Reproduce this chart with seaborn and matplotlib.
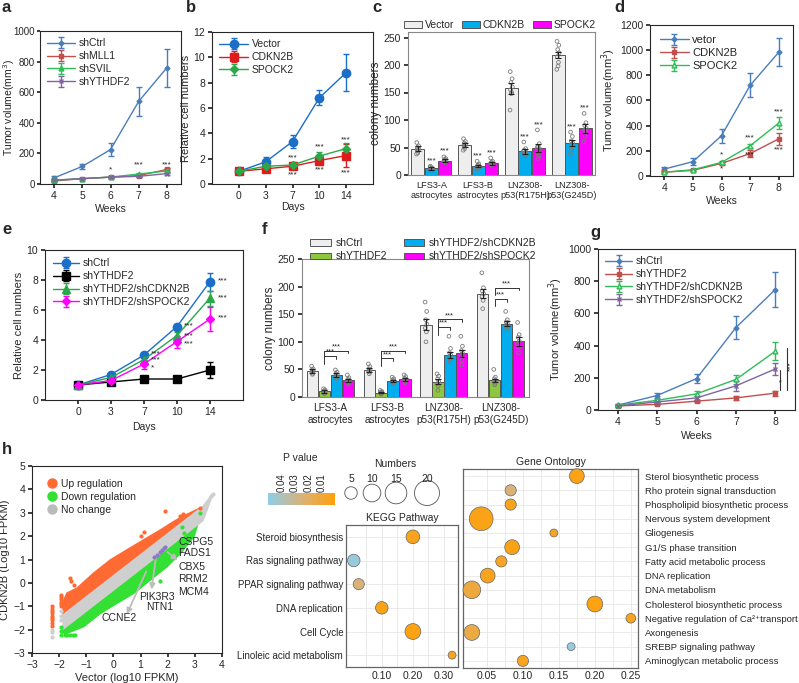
import numpy as np
import pandas as pd
import seaborn as sns
import matplotlib.pyplot as plt
from matplotlib.colors import LinearSegmentedColormap, Normalize
from matplotlib.cm import ScalarMappable
from matplotlib.patches import Patch
from matplotlib.lines import Line2D

sns.set_theme(style='ticks')
plt.rcParams['font.family'] = ['Liberation Sans', 'DejaVu Sans']
plt.rcParams['font.size'] = 7
plt.rcParams['axes.linewidth'] = 0.8
plt.rcParams['xtick.labelsize'] = 7.5
plt.rcParams['ytick.labelsize'] = 7.5
plt.rcParams['xtick.major.size'] = 3
plt.rcParams['ytick.major.size'] = 3
plt.rcParams['xtick.major.pad'] = 2
plt.rcParams['ytick.major.pad'] = 2

# ---------------- data ----------------
weeks = [4, 5, 6, 7, 8]
days = ['0', '3', '7', '10', '14']

a_shctrl = [40, 115, 225, 540, 760]
a_shctrl_err = [15, 18, 45, 95, 125]
a_shmll1 = [20, 35, 45, 55, 95]
a_shmll1_err = [5, 5, 6, 8, 10]
a_shsvil = [25, 35, 45, 65, 85]
a_shsvil_err = [5, 5, 6, 8, 10]
a_shythdf2 = [25, 35, 45, 50, 68]
a_shythdf2_err = [5, 5, 5, 7, 9]

b_vector = [1.0, 1.75, 3.35, 6.8, 8.8]
b_vector_err = [0.1, 0.4, 0.5, 0.6, 1.45]
b_cdkn2b = [1.0, 1.2, 1.4, 1.85, 2.25]
b_cdkn2b_err = [0.1, 0.15, 0.2, 0.3, 0.9]
b_spock2 = [1.0, 1.4, 1.5, 2.2, 2.8]
b_spock2_err = [0.1, 0.15, 0.2, 0.3, 0.4]

c_groups = ['LFS3-A\nastrocytes', 'LFS3-B\nastrocytes', 'LNZ308-\np53(R175H)', 'LNZ308-\np53(G245D)']
c_vector = [48, 55, 158, 218]
c_vector_err = [4, 4, 10, 6]
c_cdkn2b = [12, 17, 43, 58]
c_cdkn2b_err = [2, 2, 5, 6]
c_spock2 = [26, 21, 49, 85]
c_spock2_err = [3, 3, 8, 8]
c_vector_dots = [[59, 53, 50, 48, 46, 44, 40, 38],
                 [66, 61, 58, 56, 54, 52, 48, 45],
                 [188, 175, 168, 160, 155, 150, 148, 118],
                 [243, 236, 228, 222, 215, 205, 198, 192]]
c_cdkn2b_dots = [[16, 13, 12, 11, 10, 9, 12, 14],
                 [25, 20, 18, 16, 14, 13, 17, 11],
                 [60, 48, 45, 42, 40, 38, 35, 44],
                 [78, 70, 62, 58, 55, 50, 45, 38]]
c_spock2_dots = [[33, 30, 28, 26, 25, 22, 27, 24],
                 [31, 25, 22, 20, 19, 18, 23, 21],
                 [82, 57, 52, 48, 40, 35, 30, 50],
                 [112, 95, 90, 85, 82, 80, 70, 60]]

d_vetor = [55, 114, 320, 720, 983]
d_vetor_err = [15, 30, 55, 95, 110]
d_cdkn2b = [30, 45, 100, 178, 295]
d_cdkn2b_err = [8, 8, 15, 25, 45]
d_spock2 = [30, 50, 108, 240, 420]
d_spock2_err = [8, 8, 15, 15, 50]

e_shctrl = [1.0, 1.7, 3.0, 4.9, 7.9]
e_shctrl_err = [0.1, 0.1, 0.15, 0.2, 0.6]
e_shythdf2 = [1.0, 1.2, 1.4, 1.4, 2.0]
e_shythdf2_err = [0.1, 0.1, 0.1, 0.1, 0.55]
e_cdkn2b = [1.0, 1.5, 2.7, 4.3, 6.8]
e_cdkn2b_err = [0.1, 0.1, 0.15, 0.25, 0.5]
e_spock2 = [1.0, 1.3, 2.4, 3.9, 5.4]
e_spock2_err = [0.1, 0.1, 0.3, 0.4, 0.8]

f_shctrl = [47, 49, 131, 187]
f_shctrl_err = [3, 4, 10, 8]
f_shythdf2 = [10, 8, 28, 30]
f_shythdf2_err = [2, 1, 4, 3]
f_cdkn2b = [40, 29, 76, 133]
f_cdkn2b_err = [3, 2, 5, 4]
f_spock2 = [30, 32, 79, 101]
f_spock2_err = [3, 3, 6, 8]
f_shctrl_dots = [[56, 51, 49, 47, 45, 43, 41], [60, 55, 51, 49, 47, 45, 42],
                 [172, 155, 140, 132, 125, 118, 100], [225, 198, 192, 187, 182, 175, 160]]
f_shythdf2_dots = [[15, 13, 11, 10, 8, 7, 6], [12, 10, 9, 8, 7, 6, 5],
                   [42, 38, 33, 28, 24, 20, 12], [50, 36, 33, 30, 28, 25, 22]]
f_cdkn2b_dots = [[49, 45, 42, 40, 38, 36, 33], [36, 33, 31, 29, 28, 26, 24],
                 [110, 88, 80, 76, 72, 68, 64], [155, 140, 136, 133, 130, 127, 122]]
f_spock2_dots = [[40, 35, 32, 30, 28, 26, 23], [40, 37, 34, 32, 30, 28, 26],
                 [110, 92, 84, 79, 74, 66, 58], [135, 113, 108, 101, 96, 90, 80]]
f_bracket_low = [74, 70, 127, 178]
f_bracket_high = [84, 84, 141, 198]

g_shctrl = [30, 90, 195, 512, 748]
g_shctrl_err = [8, 15, 30, 72, 108]
g_shythdf2 = [25, 35, 55, 75, 105]
g_shythdf2_err = [5, 6, 8, 12, 15]
g_cdkn2b = [30, 60, 100, 190, 365]
g_cdkn2b_err = [6, 8, 15, 30, 55]
g_spock2 = [25, 50, 75, 150, 255]
g_spock2_err = [5, 8, 12, 30, 35]

# h: scatter of log10 FPKM (dense clouds given as outlines)
up_band_x = [-1.85, -1.71, -1.34, -0.73, -0.11, 0.5, 1.12, 1.73, 2.22, 2.53, 3.2, 3.2, 2.0, 0.0, -1.0, -1.85]
up_band_y = [-0.8, -0.44, -0.23, 0.41, 0.98, 1.41, 1.84, 2.26, 2.62, 2.83, 3.2, 3.18, 2.1, 0.3, -0.6, -1.37]
nc_band_x = [-1.85, 3.3, 3.65, 3.55, 3.3, -1.85]
nc_band_y = [-1.37, 3.27, 3.8, 3.45, 2.67, -1.97]
down_band_x = [-1.85, 3.1, 2.96, 2.47, 1.98, 1.36, 0.75, 0.13, -0.48, -1.10, -1.71, -1.85]
down_band_y = [-1.97, 2.49, 1.98, 1.27, 0.70, 0.13, -0.44, -0.87, -1.30, -1.87, -2.15, -2.15]
up_pts_x = [1.89, 1.12, 1.0, -1.59, -1.55, 2.47, 2.55, 3.18, -1.45] + [-2.26] * 9 + [-1.92] * 6
up_pts_y = [3.09, 2.19, 2.0, 0.2, 0.06, 2.86, 2.95, 3.22, -0.1] + \
           [-1.0, -1.1, -1.2, -1.3, -1.4, -1.5, -1.6, -1.72, -1.86] + [-0.5, -0.6, -0.7, -0.8, -0.9, -1.0]
down_pts_x = [1.73, 1.12, 2.59, 3.18, 2.53, 2.2] + [-1.92] * 3 + [-1.8, -1.7, -1.6, -1.5, -1.4]
down_pts_y = [0.06, 0.03, 2.15, 2.98, 2.41, 1.4] + [-1.9, -2.05, -2.22] + [-2.22] * 5
nc_pts_x = [-2.26, -2.26, -2.26, -1.92, -1.92, -1.92, 3.6, 3.65]
nc_pts_y = [-2.0, -2.1, -2.3, -1.2, -1.4, -1.6, 3.7, 3.8]
hl_x = [1.5, 1.6, 1.7, 1.78, 1.85, 1.9]
hl_y = [1.1, 1.2, 1.3, 1.42, 1.5, 1.55]

kegg_terms = ['Steroid biosynthesis', 'Ras signaling pathway', 'PPAR signaling pathway',
              'DNA replication', 'Cell Cycle', 'Linoleic acid metabolism']
kegg_ratio = [0.20, 0.01, 0.026, 0.10, 0.20, 0.326]
kegg_count = [6, 5, 4, 5, 8, 2]
kegg_p = [0.004, 0.047, 0.025, 0.003, 0.002, 0.005]

go_terms = ['Sterol biosynthetic process', 'Rho protein signal transduction',
            'Phospholipid biosynthetic process', 'Nervous system development', 'Gliogenesis',
            'G1/S phase transition', 'Fatty acid metabolic process', 'DNA replication',
            'DNA metabolism', 'Cholesterol biosynthetic process',
            'Negative regulation of Ca²⁺transport', 'Axongenesis',
            'SREBP signaling pathway', 'Aminoglycan metabolic process']
go_ratio = [0.175, 0.083, 0.083, 0.042, 0.143, 0.085, 0.07, 0.051, 0.029, 0.2, 0.25, 0.029, 0.167, 0.1]
go_count = [7, 4, 4, 18, 2, 7, 4, 7, 10, 8, 3, 8, 2, 4]
go_p = [0.003, 0.025, 0.004, 0.003, 0.005, 0.003, 0.006, 0.004, 0.012, 0.002, 0.004, 0.013, 0.047, 0.005]

size_legend = [5, 10, 15, 20]
p_ticks = [0.04, 0.03, 0.02, 0.01]

# ---------------- layout helpers ----------------
W, H = 799, 683
fig = plt.figure(figsize=(W / 100, H / 100), dpi=100)


def px_axes(l, t, r, b):
    return fig.add_axes([l / W, 1 - b / H, (r - l) / W, (b - t) / H])


def letter(x, y, s):
    fig.text(x / W, 1 - y / H, s, fontsize=12, fontweight='bold', ha='left', va='center')


BLUE_XL = '#4a7ebb'
RED_XL = '#c0504d'
GREEN_XL = '#2ebd59'
PURPLE_XL = '#8064a2'
BLUE = '#1b6fc8'
RED = '#dd1c1c'
GREEN = '#2aa84a'
MAGENTA = '#ff00ff'
CYAN = '#00aeef'
LIGHT = '#eeeeee'
LGREEN = '#8dc63f'


def line(ax, x, y, err, color, marker, ms, label, mfc=None):
    ax.errorbar(x, y, yerr=err, color=color, marker=marker, ms=ms, lw=1, elinewidth=1,
                capsize=2.5, capthick=1, label=label, mfc=mfc or color, mec=color)


def stars(ax, xs, ys, s='***', **kw):
    for x, y in zip(xs, ys):
        ax.text(x, y, s, ha='center', va='center', fontsize=6, **kw)


def small_legend(ax, hl, fs=7.5, pad=0.3):
    ax.legend(loc='upper left', frameon=False, fontsize=fs, handlelength=hl, labelspacing=0.28,
              borderaxespad=pad, handletextpad=0.3)


# ---------------- a ----------------
ax = px_axes(40, 31, 181, 184)
line(ax, weeks, a_shctrl, a_shctrl_err, BLUE_XL, 'D', 2.5, 'shCtrl')
line(ax, weeks, a_shmll1, a_shmll1_err, RED_XL, 's', 3.5, 'shMLL1')
line(ax, weeks, a_shsvil, a_shsvil_err, GREEN_XL, '^', 3.5, 'shSVIL')
line(ax, weeks, a_shythdf2, a_shythdf2_err, PURPLE_XL, 'x', 3.5, 'shYTHDF2')
ax.set_xlim(3.5, 8.5)
ax.set_ylim(0, 1000)
ax.set_xticks(weeks)
ax.set_yticks([0, 200, 400, 600, 800, 1000])
ax.tick_params(axis='y', labelsize=7, pad=1.5, length=2)
ax.set_xlabel('Weeks', fontsize=7.5, labelpad=2)
ax.set_ylabel('Tumor volume(mm$^3$)', fontsize=7.5)
ax.yaxis.set_label_coords(-0.16, 0.5)
stars(ax, [6], [95], '*')
stars(ax, [7, 8], [125, 125])
small_legend(ax, 2.7)
letter(2, 8, 'a')

# ---------------- b ----------------
ax = px_axes(212, 32, 373, 184)
xb = np.arange(len(days))
line(ax, xb, b_vector, b_vector_err, BLUE, 'o', 6, 'Vector')
line(ax, xb, b_cdkn2b, b_cdkn2b_err, RED, 's', 5.5, 'CDKN2B')
line(ax, xb, b_spock2, b_spock2_err, GREEN, 'D', 4.5, 'SPOCK2')
ax.set_xlim(-1, 5)
ax.set_ylim(0, 12)
ax.set_xticks(xb)
ax.set_xticklabels(days)
ax.set_yticks(range(0, 13, 2))
ax.set_xlabel('Days', fontsize=7.5, labelpad=1)
ax.set_ylabel('Relative cell numbers', fontsize=8, labelpad=2)
stars(ax, [2, 3, 4], [2.1, 2.95, 3.45])
stars(ax, [2, 3, 4], [0.7, 1.1, 0.85])
small_legend(ax, 2.8)
letter(186, 8, 'b')

# ---------------- c ----------------
offs3 = [-0.29, 0.0, 0.29]
jit = [-0.08, 0.06, -0.03, 0.08, -0.06, 0.03, 0.0, -0.1]


def bars(ax, groups, vals, errs, dots, colors, labels, offs, width):
    xg = np.arange(len(groups))
    for v, e, d, c, lab, o in zip(vals, errs, dots, colors, labels, offs):
        ax.bar(xg + o, v, width=width, color=c, edgecolor='#555555', lw=0.7, label=lab, zorder=2)
        ax.errorbar(xg + o, v, yerr=e, fmt='none', ecolor='#222222', elinewidth=0.8, capsize=2,
                    capthick=0.8, zorder=4)
        for gi, pts in enumerate(d):
            ax.scatter([xg[gi] + o + jit[k % len(jit)] * width for k in range(len(pts))], pts,
                       s=7, facecolor='none', edgecolor='#7a7a7a', lw=0.6, zorder=3)
    ax.set_xticks(xg)
    ax.set_xticklabels(groups, fontsize=6.6, linespacing=1.25)
    ax.tick_params(axis='x', length=0, pad=4)
    ax.set_xlim(-0.5, len(groups) - 0.5)


ax = px_axes(408, 32, 595, 175)
bars(ax, c_groups, [c_vector, c_cdkn2b, c_spock2], [c_vector_err, c_cdkn2b_err, c_spock2_err],
     [c_vector_dots, c_cdkn2b_dots, c_spock2_dots], [LIGHT, CYAN, MAGENTA],
     ['Vector', 'CDKN2B', 'SPOCK2'], offs3, 0.28)
ax.set_ylim(0, 260)
ax.set_yticks([0, 50, 100, 150, 200, 250])
ax.set_ylabel('colony numbers', fontsize=8.5, labelpad=1)
for sp in ax.spines.values():
    sp.set_color('#888888')
for i in range(4):
    stars(ax, [i + offs3[1]], [max(c_cdkn2b_dots[i]) + 10])
    stars(ax, [i + offs3[2]], [max(c_spock2_dots[i]) + 10])
ax.legend(loc='center left', bbox_to_anchor=(400 / W, 1 - 25 / H), bbox_transform=fig.transFigure,
          ncol=3, frameon=False, fontsize=7.5, handlelength=1.7, handleheight=0.6,
          columnspacing=0.8, handletextpad=0.25, borderaxespad=0)
letter(372, 8, 'c')

# ---------------- d ----------------
ax = px_axes(650, 25, 793, 176)
line(ax, weeks, d_vetor, d_vetor_err, BLUE_XL, 'D', 2.5, 'vetor')
line(ax, weeks, d_cdkn2b, d_cdkn2b_err, RED_XL, 's', 3.5, 'CDKN2B')
line(ax, weeks, d_spock2, d_spock2_err, GREEN_XL, '^', 3.5, 'SPOCK2', mfc='#bff0c8')
ax.set_xlim(3.5, 8.5)
ax.set_ylim(0, 1200)
ax.set_xticks(weeks)
ax.set_yticks(range(0, 1201, 200))
ax.set_xlabel('Weeks', fontsize=7.5, labelpad=2)
ax.set_ylabel('Tumor volume(mm$^3$)', fontsize=8, labelpad=1)
stars(ax, [6], [167], '*')
stars(ax, [7, 8], [302, 512])
stars(ax, [6], [56], '*')
stars(ax, [7, 8], [167, 210])
small_legend(ax, 2.6, fs=8, pad=0.5)
letter(614, 8, 'd')

# ---------------- e ----------------
ax = px_axes(45, 250, 243, 400)
line(ax, xb, e_shctrl, e_shctrl_err, BLUE, 'o', 6, 'shCtrl')
line(ax, xb, e_shythdf2, e_shythdf2_err, 'black', 's', 5.5, 'shYTHDF2')
line(ax, xb, e_cdkn2b, e_cdkn2b_err, GREEN, '^', 5.5, 'shYTHDF2/shCDKN2B')
line(ax, xb, e_spock2, e_spock2_err, MAGENTA, 'D', 4.5, 'shYTHDF2/shSPOCK2')
ax.set_xlim(-1, 5)
ax.set_ylim(0, 10)
ax.set_xticks(xb)
ax.set_xticklabels(days)
ax.set_yticks(range(0, 11, 2))
ax.set_xlabel('Days', fontsize=7.5, labelpad=4)
ax.set_ylabel('Relative cell numbers', fontsize=8, labelpad=2)
stars(ax, [4.4, 4.4, 4.4], [7.95, 6.8, 5.45])
stars(ax, [3.35, 3.35, 3.35], [4.95, 4.3, 3.75])
stars(ax, [2.35, 2.35], [3.1, 2.7])
stars(ax, [2.25], [2.15], '*')
small_legend(ax, 2.5, pad=0.4)
letter(2, 230, 'e')

# ---------------- f ----------------
offs4 = [-0.315, -0.105, 0.105, 0.315]
ax = px_axes(302, 259, 529, 397)
bars(ax, c_groups, [f_shctrl, f_shythdf2, f_cdkn2b, f_spock2],
     [f_shctrl_err, f_shythdf2_err, f_cdkn2b_err, f_spock2_err],
     [f_shctrl_dots, f_shythdf2_dots, f_cdkn2b_dots, f_spock2_dots],
     [LIGHT, LGREEN, CYAN, MAGENTA],
     ['shCtrl', 'shYTHDF2', 'shYTHDF2/shCDKN2B', 'shYTHDF2/shSPOCK2'], offs4, 0.2)
ax.set_xticklabels(c_groups, fontsize=7.2, linespacing=1.25)
ax.set_ylim(0, 250)
ax.set_yticks([0, 50, 100, 150, 200, 250])
ax.set_ylabel('colony numbers', fontsize=8.5, labelpad=1)
for sp in ax.spines.values():
    sp.set_color('#888888')
for i in range(4):
    for h, o2 in ((f_bracket_low[i], offs4[2]), (f_bracket_high[i], offs4[3])):
        x1, x2 = i + offs4[1], i + o2
        ax.plot([x1, x1, x2, x2], [h - 14, h, h, h - 5], color='#333333', lw=0.7)
        ax.text((x1 + x2) / 2, h + 0.5, '***', ha='center', va='bottom', fontsize=5.5)
handles = [Patch(facecolor=c, edgecolor='#555555', lw=0.7) for c in [LIGHT, LGREEN, CYAN, MAGENTA]]
labs = ['shCtrl', 'shYTHDF2', 'shYTHDF2/shCDKN2B', 'shYTHDF2/shSPOCK2']
fig.legend(handles, labs, ncol=2,
           loc='upper left', bbox_to_anchor=(301 / W, 1 - 229 / H), frameon=False, fontsize=7.5,
           handlelength=2.0, handleheight=0.6, columnspacing=1.6, handletextpad=0.4, labelspacing=0.3)
letter(262, 230, 'f')

# ---------------- g ----------------
ax = px_axes(598, 249, 795, 410)
line(ax, weeks, g_shctrl, g_shctrl_err, BLUE_XL, 'D', 2.5, 'shCtrl')
line(ax, weeks, g_shythdf2, g_shythdf2_err, RED_XL, 's', 3.5, 'shYTHDF2')
line(ax, weeks, g_cdkn2b, g_cdkn2b_err, GREEN_XL, '^', 3.5, 'shYTHDF2/shCDKN2B', mfc='#bff0c8')
line(ax, weeks, g_spock2, g_spock2_err, PURPLE_XL, 'x', 3.5, 'shYTHDF2/shSPOCK2')
ax.set_xlim(3.5, 8.5)
ax.set_ylim(0, 1000)
ax.set_xticks(weeks)
ax.set_yticks(range(0, 1001, 200))
ax.set_xlabel('Weeks', fontsize=7.5, labelpad=3)
ax.set_ylabel('Tumor volume(mm$^3$)', fontsize=8, labelpad=2)
ax.plot([8.12, 8.12], [125, 250], color='#333333', lw=0.8)
ax.plot([8.3, 8.3], [125, 385], color='#333333', lw=0.8)
ax.text(8.19, 185, '*', rotation=90, ha='center', va='center', fontsize=6)
ax.text(8.38, 270, '***', rotation=90, ha='center', va='center', fontsize=6)
small_legend(ax, 2.6, pad=0.3)
letter(590, 232, 'g')

# ---------------- h scatter ----------------
UP = '#ff6a33'
DOWN = '#33e033'
NC = '#cfcfcf'
ax = px_axes(32, 466, 222, 653)
ax.fill(up_band_x, up_band_y, color=UP, lw=1.2, ec=UP, zorder=1)
ax.fill(down_band_x, down_band_y, color=DOWN, lw=1.2, ec=DOWN, zorder=1)
ax.fill(nc_band_x, nc_band_y, color=NC, lw=1.2, ec=NC, zorder=2)
sns.scatterplot(x=up_pts_x, y=up_pts_y, color=UP, s=9, linewidth=0, ax=ax, zorder=3)
sns.scatterplot(x=down_pts_x, y=down_pts_y, color=DOWN, s=9, linewidth=0, ax=ax, zorder=3)
sns.scatterplot(x=nc_pts_x, y=nc_pts_y, color=NC, s=9, linewidth=0, ax=ax, zorder=3)
sns.scatterplot(x=hl_x, y=hl_y, color='#8f78c8', s=9, linewidth=0, ax=ax, zorder=4)
arrow = dict(arrowstyle='-|>', color='#bdbdbd', lw=1.3, mutation_scale=8)
ax.annotate('', xy=(2.45, 0.9), xytext=(1.9, 1.4), arrowprops=arrow)
ax.annotate('', xy=(1.39, -0.4), xytext=(1.58, 1.2), arrowprops=arrow)
ax.annotate('', xy=(0.45, -1.45), xytext=(1.25, 0.6), arrowprops=arrow)
for s_, x_, y_ in [('CSPG5', 2.4, 1.77), ('FADS1', 2.4, 1.27), ('CBX5', 2.4, 0.66),
                   ('RRM2', 2.4, 0.16), ('MCM4', 2.4, -0.4), ('PIK3R3', 0.93, -0.59),
                   ('NTN1', 1.2, -1.02), ('CCNE2', -0.45, -1.49)]:
    ax.text(x_, y_, s_, fontsize=7.5, ha='left', va='center', zorder=5)
ax.set_xlim(-3, 4)
ax.set_ylim(-3, 5)
ax.set_xticks(range(-3, 5))
ax.set_yticks(range(-3, 6))
ax.set_xlabel('Vector (log10 FPKM)', fontsize=8, labelpad=2)
ax.set_ylabel('CDKN2B (Log10 FPKM)', fontsize=8, labelpad=2)
h_handles = [Line2D([], [], ls='none', marker='o', ms=6.5, color=c) for c in (UP, DOWN, '#bbbbbb')]
ax.legend(h_handles, ['Up regulation', 'Down regulation', 'No change'], loc='upper left',
          frameon=False, fontsize=7.5, handletextpad=0.1, labelspacing=0.3, borderaxespad=0.8,
          handlelength=1.5)
letter(2, 450, 'h')

# ---------------- P value colorbar ----------------
pcmap = LinearSegmentedColormap.from_list('pval', ['#ffa10a', '#d9b27a', '#8ecde8'])
pnorm = Normalize(0, 0.05)
cax = px_axes(268, 493, 335, 505)
cb = fig.colorbar(ScalarMappable(norm=pnorm, cmap=pcmap), cax=cax, orientation='horizontal')
cax.invert_xaxis()
cb.outline.set_visible(False)
cax.xaxis.set_ticks_position('top')
cb.set_ticks(p_ticks)
cb.set_ticklabels(['%.2f' % t for t in p_ticks])
cax.tick_params(axis='x', length=0, pad=1, labelsize=7, labelrotation=90)
fig.text(300 / W, 1 - 458 / H, 'P value', ha='center', va='center', fontsize=7.5)

# ---------------- size legend ----------------
S_PER = 16.2
lax = px_axes(338, 470, 445, 515)
lax.set_xlim(338, 445)
lax.set_ylim(515, 470)
lax.axis('off')
sns.scatterplot(x=[351, 372, 396, 427], y=[493] * 4, s=[n * S_PER for n in size_legend],
                color='white', edgecolor='#555555', linewidth=0.6, ax=lax, legend=False)
for xx, n in zip([351, 372, 396, 427], size_legend):
    lax.text(xx, 479, str(n), ha='center', va='center', fontsize=7.5)
fig.text(395 / W, 1 - 464 / H, 'Numbers', ha='center', va='center', fontsize=7.5)


# ---------------- bubble panels ----------------
def bubble(ax, terms, ratio, count, pv, fs):
    df = pd.DataFrame({'ratio': ratio, 'row': np.arange(len(terms)), 'count': count, 'p': pv})
    ax.grid(True, which='both', color='#e6e6e6', lw=0.6, zorder=0)
    ax.set_axisbelow(True)
    sns.scatterplot(data=df, x='ratio', y='row', size='count', hue='p', palette=pcmap,
                    hue_norm=pnorm, sizes=(0, 20 * S_PER), size_norm=(0, 20),
                    edgecolor='#666666', linewidth=0.5, ax=ax, legend=False, zorder=3, clip_on=False)
    ax.set_ylim(len(terms) - 0.5, -0.5)
    ax.set_yticks(np.arange(len(terms)))
    ax.set_yticklabels(terms, fontsize=fs)
    ax.set_xlabel('')
    ax.set_ylabel('')
    ax.tick_params(axis='both', length=0, pad=2)
    for sp in ax.spines.values():
        sp.set_color('#666666')
        sp.set_linewidth(0.9)


ax = px_axes(346, 525, 458, 667)
bubble(ax, kegg_terms, kegg_ratio, kegg_count, kegg_p, 7)
ax.set_xlim(-0.015, 0.345)
ax.set_xticks([0.10, 0.20, 0.30])
ax.set_xticks([0.05, 0.15, 0.25], minor=True)
ax.set_xticklabels(['0.10', '0.20', '0.30'], fontsize=7.5)
ax.tick_params(axis='x', which='both', length=0, pad=3)
ax.set_title('KEGG Pathway', fontsize=7.5, pad=3)

ax = px_axes(463, 469, 638, 668)
bubble(ax, go_terms, go_ratio, go_count, go_p, 6.8)
ax.set_xlim(0.0167, 0.26)
ax.set_xticks([0.05, 0.10, 0.15, 0.20, 0.25])
ax.set_xticks([0.075, 0.125, 0.175, 0.225], minor=True)
ax.set_xticklabels(['0.05', '0.10', '0.15', '0.20', '0.25'], fontsize=7.5)
ax.tick_params(axis='x', which='both', length=0, pad=2)
ax.yaxis.tick_right()
ax.tick_params(axis='y', pad=5)
ax.set_title('Gene Ontology', fontsize=7.5, pad=3)

fig.savefig('out.png', dpi=100)
